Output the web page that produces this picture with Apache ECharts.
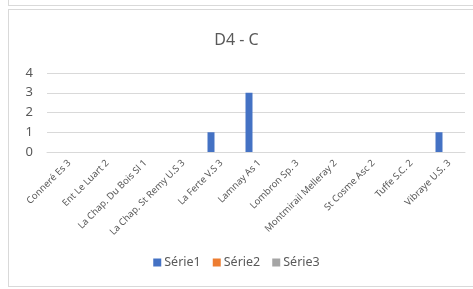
<html>
<head>
<script src="https://cdn.jsdelivr.net/npm/echarts@6/dist/echarts.min.js"></script>
<style>
    body { margin: 0; padding: 0; background: #fff; }
    #prev { position: absolute; left: 8px; top: -10px; width: 480px; height: 14px; border: 1px solid #d9d9d9; }
    #frame { position: absolute; left: 8px; top: 9px; width: 480px; height: 276px; border: 1px solid #d9d9d9; }
    #content { position: absolute; left: 0; top: 0; width: 473px; height: 289px; }
</style>
</head>
<body>
<div id="prev"></div>
<div id="frame"></div>
<div id="content"></div>
<script type="text/javascript">
    var categories = ['Conneré Es 3', 'Ent Le Luart 2', 'La Chap. Du Bois Sl 1', 'La Chap. St Remy U.S 3',
        'La Ferte V.S 3', 'Lamnay As 1', 'Lombron Sp. 3', 'Montmirail Melleray 2',
        'St Cosme Asc 2', 'Tuffe S.C. 2', 'Vibraye U.S. 3'];
    var serie1 = [0, 0, 0, 0, 1, 3, 0, 0, 0, 0, 1];
    var serie2 = [null, null, null, null, null, null, null, null, null, null, null];
    var serie3 = [null, null, null, null, null, null, null, null, null, null, null];
    var yTicks = [0, 1, 2, 3, 4];

    var font = 'Noto Sans, sans-serif';
    var chart = echarts.init(document.getElementById('content'));
    var option = {
        animation: false,
        title: {
            text: 'D4 - C',
            left: 'center',
            top: 27,
            textStyle: { fontFamily: font, fontSize: 16, fontWeight: 'normal', color: '#595959' }
        },
        legend: {
            data: ['Série1', 'Série2', 'Série3'],
            bottom: 15,
            left: 'center',
            itemWidth: 8,
            itemHeight: 8,
            itemGap: 12,
            icon: 'rect',
            textStyle: { fontFamily: font, fontSize: 12.5, color: '#595959', padding: [0, 0, 0, -2] }
        },
        grid: { left: 47, right: 8, top: 73, bottom: 137 },
        xAxis: {
            type: 'category',
            data: categories,
            axisTick: { show: false },
            axisLine: { lineStyle: { color: '#d9d9d9' } },
            axisLabel: { rotate: 45, interval: 0, fontFamily: font, fontSize: 9.5, color: '#595959', margin: 6, verticalAlign: 'top' }
        },
        yAxis: {
            type: 'value',
            min: yTicks[0],
            max: yTicks[yTicks.length - 1],
            interval: 1,
            axisLine: { show: false },
            axisTick: { show: false },
            splitLine: { lineStyle: { color: '#d9d9d9' } },
            axisLabel: { fontFamily: font, fontSize: 13, color: '#595959', margin: 14 }
        },
        series: [
            { name: 'Série1', type: 'bar', data: serie1, barWidth: 7, barGap: '0%', itemStyle: { color: '#4472c4' } },
            { name: 'Série2', type: 'bar', data: serie2, barWidth: 7, barGap: '0%', itemStyle: { color: '#ed7d31' } },
            { name: 'Série3', type: 'bar', data: serie3, barWidth: 7, barGap: '0%', itemStyle: { color: '#a5a5a5' } }
        ]
    };
    chart.setOption(option);
</script>
</body>
</html>
